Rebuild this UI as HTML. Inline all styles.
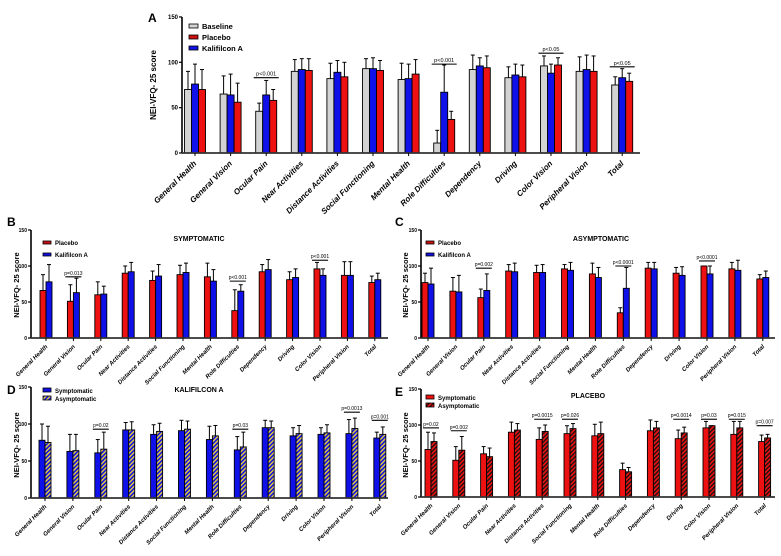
<!DOCTYPE html>
<html><head><meta charset="utf-8"><style>
html,body{margin:0;padding:0;background:#fff;}
svg{display:block;font-family:"Liberation Sans",Arial,sans-serif;}
</style></head><body>
<svg id="fig" width="781" height="556" viewBox="0 0 781 556" xmlns="http://www.w3.org/2000/svg">
<defs>
<pattern id="hatchY" patternUnits="userSpaceOnUse" width="3" height="3" patternTransform="rotate(45)"><rect width="3" height="3" fill="#1010e0"/><rect width="1.4" height="3" fill="#e8d040"/></pattern>
<pattern id="hatchK" patternUnits="userSpaceOnUse" width="3" height="3" patternTransform="rotate(45)"><rect width="3" height="3" fill="#ee1111"/><rect width="1.3" height="3" fill="#111"/></pattern>
</defs>
</svg>
<script>
const categories=["General Health","General Vision","Ocular Pain","Near Activities","Distance Activities","Social Functioning","Mental Health","Role Difficulties","Dependency","Driving","Color Vision","Peripheral Vision","Total"];
const tickValues=[0,50,100,150];
// Panel A (bar order: baseline, kalifilcon, placebo)
const aBaseline=[70,65,46,90,82,93,81,11,92,83,96,90,75];
const aBaselineErr=[90,85,55,103,99,104,99,25,108,95,107,106,84];
const aKali=[76,64,64,92,89,93,82,67,96,86,88,92,83];
const aKaliErr=[98,87,80,104,102,105,98,97,105,98,98,108,93];
const aPlacebo=[70,56,58,91,84,91,87,37,94,84,97,90,79];
const aPlaceboErr=[92,77,70,104,100,102,103,46,107,97,105,107,88];
const aSig=[[2,"p<0.001",83],[7,"p<0.001",98],[10,"p<0.05",110],[12,"p<0.05",95]];
// Panel B symptomatic
const bPlacebo=[66,51,60,90,80,88,85,38,92,81,96,87,77];
const bPlaceboErr=[88,74,78,100,93,101,104,67,102,92,105,106,86];
const bKali=[78,63,61,92,86,91,79,65,95,84,87,87,81];
const bKaliErr=[102,83,72,105,102,104,95,74,109,96,96,106,90];
const bSig=[[1,"p=0.013",85],[7,"p<0.001",79],[10,"p<0.001",108]];
// Panel C asymptomatic
const cPlacebo=[77,65,56,93,91,96,89,35,97,90,100,96,82];
const cPlaceboErr=[90,84,68,102,101,102,104,42,105,98,100,105,88];
const cKali=[75,64,66,92,91,94,84,69,96,87,89,94,84];
const cKaliErr=[97,87,89,104,102,105,98,98,105,99,100,108,93];
const cSig=[[2,"p=0.002",97],[7,"p<0.0001",100],[10,"p<0.0001",107]];
// Panel D kalifilcon A
const dSymp=[78,63,61,92,86,91,79,65,95,84,86,87,81];
const dSympErr=[100,86,79,102,99,105,97,83,105,95,95,106,89];
const dAsymp=[75,64,66,92,90,93,84,69,95,87,88,94,86];
const dAsympErr=[97,86,89,103,101,104,98,89,104,98,99,108,96];
const dSig=[[2,"p=0.02",93],[7,"p=0.03",93],[11,"p=0.0013",116],[12,"p=0.001",105]];
// Panel E placebo
const eSymp=[66,51,60,90,80,88,85,38,92,81,96,87,77];
const eSympErr=[90,70,70,104,96,99,101,47,107,93,105,105,86];
const eAsymp=[77,65,56,93,91,95,88,35,96,89,99,96,82];
const eAsympErr=[89,84,68,102,100,102,104,41,105,97,99,105,87];
const eSig=[[0,"p=0.02",96],[1,"p=0.002",92],[4,"p=0.0015",108],[5,"p=0.026",108],[9,"p=0.0014",108],[10,"p=0.03",108],[11,"p=0.015",108],[12,"p=0.007",99]];

const NS="http://www.w3.org/2000/svg";
const svg=document.getElementById("fig");
function mk(tag,attrs,parent){const e=document.createElementNS(NS,tag);for(const k in attrs)e.setAttribute(k,attrs[k]);(parent||svg).appendChild(e);return e;}

function panel(cfg){
  const g=mk("g",{});
  
  
  const y=v=>cfg.y0-v*cfg.ppu;
  const cx=i=>cfg.first+i*cfg.step;
  const n=cfg.series.length;
  const gw=n*cfg.bw;
  cfg.series.forEach((s,si)=>{
    s.vals.forEach((v,i)=>{
      const x=cx(i)-gw/2+si*cfg.bw;
      const ex=x+cfg.bw/2;
      const ln=mk("line",{x1:ex,x2:ex,y1:y(v),y2:y(s.err[i]),stroke:"#000","stroke-width":1},g);
      
      
      const cap=mk("line",{x1:ex-2,x2:ex+2,y1:y(s.err[i]),y2:y(s.err[i]),stroke:"#000","stroke-width":1},g);
      
      
      const r=mk("rect",{x:x,y:y(v),width:cfg.bw,height:v*cfg.ppu,fill:s.fill,stroke:"#000","stroke-width":0.9},g);
      
      
    });
  });
  mk("line",{x1:cfg.x0,x2:cfg.x0,y1:y(150),y2:cfg.y0,stroke:"#000","stroke-width":1.6},g);
  mk("line",{x1:cfg.x0,x2:cfg.x1,y1:cfg.y0,y2:cfg.y0,stroke:"#333","stroke-width":1.8},g);
  tickValues.forEach(t=>{
    mk("line",{x1:cfg.x0-3,x2:cfg.x0,y1:y(t),y2:y(t),stroke:"#000","stroke-width":1.2},g);
    const tx=mk("text",{x:cfg.x0-4,y:y(t)+2,"font-size":cfg.tfs,"text-anchor":"end","font-weight":"bold"},g);
    tx.textContent=t;
    
    
  });
  categories.forEach((c,i)=>{
    mk("line",{x1:cx(i),x2:cx(i),y1:cfg.y0,y2:cfg.y0+3,stroke:"#000","stroke-width":1},g);
    const lx=cx(i)+2,ly=cfg.y0+cfg.lfs+3;
    const t=mk("text",{x:lx,y:ly,"font-size":cfg.lfs,"font-style":"italic","font-weight":"bold","text-anchor":"end",transform:`rotate(-45 ${lx} ${ly})`},g);
    t.textContent=c;
    
    
  });
  cfg.sig.forEach(s=>{
    const yy=y(s[2]);
    mk("line",{x1:cx(s[0])-gw/2-2,x2:cx(s[0])+gw/2+2,y1:yy,y2:yy,stroke:"#000","stroke-width":1.1},g);
    const t=mk("text",{x:cx(s[0]),y:yy-2,"font-size":cfg.sfs,"text-anchor":"middle"},g);
    t.textContent=s[1];
    
    
  });
  const yt=mk("text",{x:cfg.ytx,y:cfg.yty,"font-size":cfg.yfs,"font-weight":"bold","text-anchor":"middle",transform:`rotate(-90 ${cfg.ytx} ${cfg.yty})`},g);
  yt.textContent="NEI-VFQ- 25 score";
  
  
  const L=mk("text",{x:cfg.lx,y:cfg.ly,"font-size":12,"font-weight":"bold"},g);
  L.textContent=cfg.letter;
  
  
  if(cfg.title){
    const T=mk("text",{x:cfg.title[1],y:cfg.title[2],"font-size":7,"font-weight":"bold","text-anchor":"middle"},g);
    T.textContent=cfg.title[0];
    
    
  }
  cfg.legend.forEach((l,i)=>{
    const yy=cfg.legY+i*cfg.legDy;
    const r=mk("rect",{x:cfg.legX,y:yy-cfg.legH+1,width:cfg.legW,height:cfg.legH-2,fill:l[1],stroke:"#000","stroke-width":0.8},g);
    
    
    const t=mk("text",{x:cfg.legX+cfg.legW+4,y:yy,"font-size":cfg.legFs,"font-weight":"bold"},g);
    t.textContent=l[0];
    
    
  });
}

panel({name:"panel-a",letter:"A",lx:148,ly:22,x0:182,x1:640,y0:153,ppu:0.907,first:195,step:35.6,bw:7,tfs:6,lfs:8,sfs:5.5,yfs:8,ytx:156,yty:85,
  series:[{key:"baseline",vals:aBaseline,err:aBaselineErr,fill:"#d3d3d3"},{key:"kalifilcon",vals:aKali,err:aKaliErr,fill:"#1010e8"},{key:"placebo",vals:aPlacebo,err:aPlaceboErr,fill:"#ee1111"}],
  sig:aSig,legend:[["Baseline","#d3d3d3"],["Placebo","#cc1111"],["Kalifilcon A","#1010e0"]],legX:189,legY:29,legDy:11,legW:9,legH:6,legFs:7.5});
panel({name:"panel-b",letter:"B",lx:7,ly:226,x0:31,x1:388,y0:338,ppu:0.72,first:46,step:27.4,bw:6,tfs:5,lfs:6,sfs:5,yfs:7.5,ytx:19,yty:285,
  series:[{key:"placebo",vals:bPlacebo,err:bPlaceboErr,fill:"#ee1111"},{key:"kalifilcon",vals:bKali,err:bKaliErr,fill:"#1010e8"}],
  sig:bSig,title:["SYMPTOMATIC",199,241],legend:[["Placebo","#cc1111"],["Kalifilcon A","#1010e0"]],legX:43,legY:245,legDy:12,legW:8,legH:5,legFs:6});
panel({name:"panel-c",letter:"C",lx:395,ly:226,x0:421,x1:775,y0:338,ppu:0.72,first:428,step:27.9,bw:6,tfs:5,lfs:6,sfs:5,yfs:7.5,ytx:408,yty:285,
  series:[{key:"placebo",vals:cPlacebo,err:cPlaceboErr,fill:"#ee1111"},{key:"kalifilcon",vals:cKali,err:cKaliErr,fill:"#1010e8"}],
  sig:cSig,title:["ASYMPTOMATIC",601,241],legend:[["Placebo","#cc1111"],["Kalifilcon A","#1010e0"]],legX:426,legY:245,legDy:12,legW:8,legH:5,legFs:6});
panel({name:"panel-d",letter:"D",lx:7,ly:394,x0:31,x1:388,y0:498,ppu:0.74,first:45,step:27.9,bw:6,tfs:5,lfs:6,sfs:5,yfs:7.5,ytx:19,yty:445,
  series:[{key:"symptomatic",vals:dSymp,err:dSympErr,fill:"#1010e8"},{key:"asymptomatic",vals:dAsymp,err:dAsympErr,fill:"url(#hatchY)"}],
  sig:dSig,title:["KALIFILCON A",199,392],legend:[["Symptomatic","#1010e0"],["Asymptomatic","url(#hatchY)"]],legX:43,legY:393,legDy:8,legW:8,legH:6,legFs:6});
panel({name:"panel-e",letter:"E",lx:395,ly:396,x0:421,x1:775,y0:497,ppu:0.72,first:431,step:27.8,bw:6,tfs:5,lfs:6,sfs:5,yfs:7.5,ytx:408,yty:445,
  series:[{key:"symptomatic",vals:eSymp,err:eSympErr,fill:"#ee1111"},{key:"asymptomatic",vals:eAsymp,err:eAsympErr,fill:"url(#hatchK)"}],
  sig:eSig,title:["PLACEBO",588,398],legend:[["Symptomatic","#ee1111"],["Asymptomatic","url(#hatchK)"]],legX:426,legY:400,legDy:8,legW:8,legH:6,legFs:6});
</script>
</body></html>
